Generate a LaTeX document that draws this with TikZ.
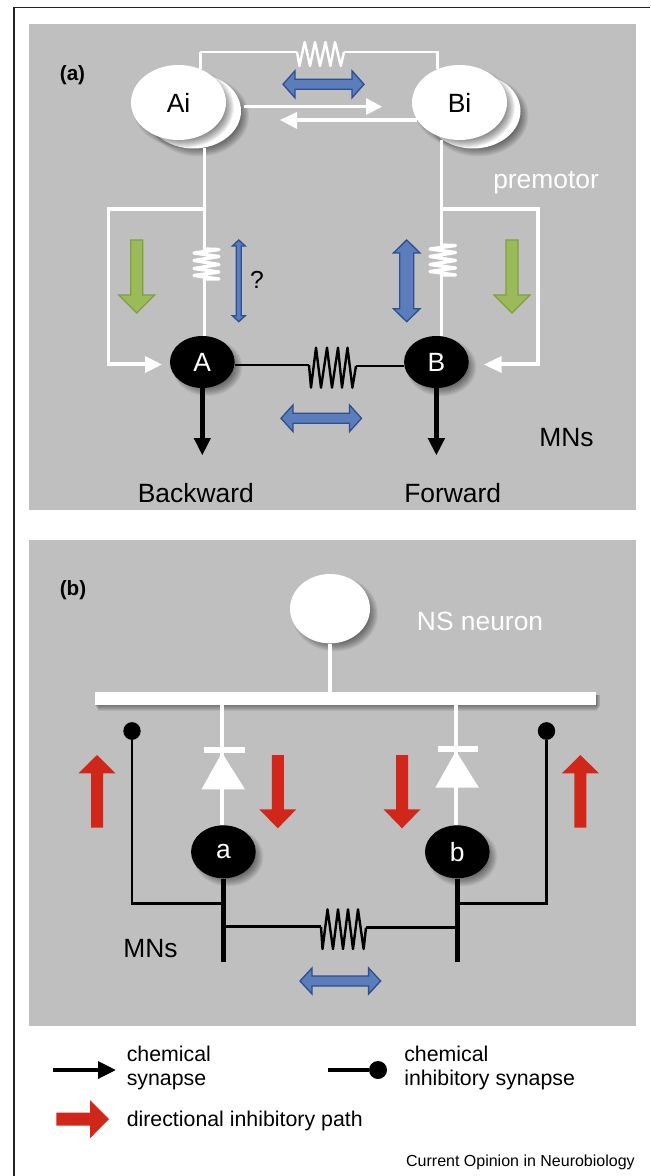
\documentclass[tikz,border=0pt]{standalone}
\usepackage{fontspec}
\setmainfont{Liberation Sans}
\usetikzlibrary{shapes.geometric}
\definecolor{panelgray}{HTML}{BFBFBF}
\definecolor{bluefill}{HTML}{5B7DBB}
\definecolor{blueedge}{HTML}{2F4F8F}
\definecolor{greenfill}{HTML}{9BBB59}
\definecolor{greenedge}{HTML}{7F9F45}
\definecolor{redfill}{HTML}{D0271A}
\definecolor{framecol}{HTML}{222222}
\tikzset{
 panel/.style={fill=panelgray,draw=none},
 wirew/.style={draw=white,line width=2pt,line join=miter},
 wirewth/.style={draw=white,line width=2.7pt,line join=miter},
 wireb/.style={draw=black,line width=2.1pt,line join=miter},
 zigw/.style={draw=white,line width=1.8pt,line join=round},
 zigb/.style={draw=black,line width=1.8pt,line join=round},
 coil/.style={draw=white,line width=2.5pt,line join=round,line cap=round},
 sollw/.style={ellipse,fill=white,draw=none,inner sep=0pt},
 sollb/.style={ellipse,fill=black,draw=none,inner sep=0pt,text=white,font=\fontsize{19.8}{23}\selectfont},
 lab/.style={inner sep=0pt,anchor=base west,font=\fontsize{19.8}{23}\selectfont},
 labw/.style={lab,text=white},
 leg/.style={inner sep=0pt,anchor=base west,font=\fontsize{16}{19}\selectfont},
 panlab/.style={inner sep=0pt,font=\bfseries\fontsize{15.5}{18}\selectfont},
 bluearr/.style={fill=bluefill,draw=blueedge,line width=1pt,line join=miter},
 greenarr/.style={fill=greenfill,draw=greenedge,line width=1pt,line join=miter},
 redarr/.style={fill=redfill,draw=none},
 wtip/.style={fill=white,draw=none},
 btip/.style={fill=black,draw=none},
}
% soft shadow round an ellipse
\newcommand{\softell}[4]{\foreach \k in {0,...,9}{\fill[black,opacity=0.055] ({#1+5},{#2+5}) ellipse [x radius={#3+3-\k}, y radius={#4+3-\k}];}}
% horizontal / vertical double arrows: from,to,centre,half shaft,half head,head length
\newcommand{\dblH}[6]{\path[bluearr] (#1,#3) -- ({#1+#6},{#3-#5}) -- ({#1+#6},{#3-#4}) -- ({#2-#6},{#3-#4}) -- ({#2-#6},{#3-#5}) -- (#2,#3) -- ({#2-#6},{#3+#5}) -- ({#2-#6},{#3+#4}) -- ({#1+#6},{#3+#4}) -- ({#1+#6},{#3+#5}) -- cycle;}
\newcommand{\dblV}[6]{\path[bluearr] (#3,#1) -- ({#3-#5},{#1+#6}) -- ({#3-#4},{#1+#6}) -- ({#3-#4},{#2-#6}) -- ({#3-#5},{#2-#6}) -- (#3,#2) -- ({#3+#5},{#2-#6}) -- ({#3+#4},{#2-#6}) -- ({#3+#4},{#1+#6}) -- ({#3+#5},{#1+#6}) -- cycle;}
% vertical block arrow: style,x,tail y,head base y,tip y,half shaft,half head
\newcommand{\blockV}[7]{\path[#1] ({#2-#6},#3) -- ({#2-#6},#4) -- ({#2-#7},#4) -- (#2,#5) -- ({#2+#7},#4) -- ({#2+#6},#4) -- ({#2+#6},#3) -- cycle;}
\begin{document}
\begin{tikzpicture}[x=0.75pt,y=-0.75pt]
\useasboundingbox (0,0) rectangle (650,1176);
\fill[white] (0,0) rectangle (650,1176);
% frame
\draw[framecol,line width=1.2pt] (650,7.5) -- (13.7,7.5) -- (13.7,1176);
% panels
\path[panel] (29,24) rectangle (636,510);
\path[panel] (29,540) rectangle (636,1026);

\node[panlab] (la) at (72.5,75) {(a)};
\node[panlab] (lb) at (73,590) {(b)};

% ---------- panel a: neurons
\softell{193.5}{111}{47.5}{37.5}
\softell{473}{111}{47.5}{37.5}
\node[sollw,minimum width=71.25pt,minimum height=56.25pt] (AiB) at (193.5,111) {};
\node[sollw,minimum width=71.25pt,minimum height=56.25pt] (BiB) at (473,111) {};
\softell{178.5}{102.5}{47.5}{37.5}
\softell{459.5}{102.5}{47.5}{37.5}
\node[sollw,minimum width=71.25pt,minimum height=56.25pt,font=\fontsize{19.8}{23}\selectfont] (Ai) at (178.5,102.5) {Ai};
\node[sollw,minimum width=71.25pt,minimum height=56.25pt,font=\fontsize{19.8}{23}\selectfont] (Bi) at (459.5,102.5) {Bi};
\softell{202.3}{362}{32}{26}
\softell{436.4}{362}{32}{26}
\node[sollb,minimum width=48.5pt,minimum height=39pt] (A) at (202.3,362) {A};
\node[sollb,minimum width=48.5pt,minimum height=39pt] (B) at (436.4,362) {B};

% coordinates
\coordinate (tl) at (200,52);
\coordinate (tr) at (436.6,52);
\coordinate (zl) at (297,52);
\coordinate (zr) at (344,52);
\coordinate (Ailow) at (204.5,148);
\coordinate (Bilow) at (441.5,146);
\coordinate (ljoin) at (204.5,209.3);
\coordinate (rjoin) at (441.5,209.3);
\coordinate (lout) at (108.6,209.3);
\coordinate (rout) at (537.7,209.3);
\coordinate (lin) at (108.6,364);
\coordinate (rin) at (537.7,364);
\coordinate (cl1) at (204.5,249);
\coordinate (cl2) at (204.5,279);
\coordinate (cr1) at (441.5,245);
\coordinate (cr2) at (441.5,275);

% top white gap junction
\draw[wirew] (Ai.57) |- (tl) -- (zl);
\draw[wirew] (Bi.123) |- (tr) -- (zr);
\draw[zigw] (zl) -- (299.4,66) -- (304.7,42) -- (310,66) -- (315,42) -- (320,66) -- (325.5,42) -- (330.4,66) -- (335,42) -- (340.8,66) -- (zr);
\dblH{283}{364}{84.3}{5}{13.5}{12}

% white chemical arrows between Ai and Bi
\coordinate (AiR) at (244,106.7);
\coordinate (BiL) at (417,120);
\draw[wirewth] (AiR) -- (368,106.7);
\path[wtip] (382,106.7) -- (366,98) -- (366,115) -- cycle;
\draw[wirewth] (BiL) -- (295,120);
\path[wtip] (280,120) -- (297,112) -- (297,129) -- cycle;

% vertical white wires and branches
\draw[wirew] (Ailow) -- (cl1);
\draw[wirew] (Bi.south -| Bilow) -- (cr1);
\draw[wirew] (cl2) -- (A.north -| cl2);
\draw[wirew] (cr2) -- (B.north -| cr2);
\draw[wirewth] (ljoin) -- (lout) -- (lin) -- (147,364);
\path[wtip] (161.7,364.5) -- (145,356) -- (145,373) -- cycle;
\draw[wirewth] (rjoin) -- (rout) -- (rin) -- (500,364);
\path[wtip] (484,364.5) -- (501.6,356) -- (501.6,373) -- cycle;

% coils
\draw[coil] (cl1) -- (219,249.5) -- (194,253) -- (219,256.5) -- (194,260.5) -- (219,264.5) -- (194,268.5) -- (219,272) -- (194,275.5) -- (219,279) -- (cl2);
\draw[coil] (cr1) -- (455.5,245.5) -- (430,249) -- (455.5,252.5) -- (430,256.5) -- (455.5,260.5) -- (430,264.5) -- (455.5,268) -- (430,271.5) -- (455.5,275) -- (cr2);

% green arrows
\blockV{greenarr}{136.8}{240}{295}{313}{6}{18}
\blockV{greenarr}{512}{240}{295}{313}{6}{18}

% blue vertical arrows
\dblV{240}{321.7}{238.8}{2.5}{6.4}{6}
\dblV{240}{321.7}{406.7}{7}{13.3}{13}
\node[inner sep=0pt,font=\fontsize{18.5}{20}\selectfont] (qm) at (257,279.5) {?};

% black gap junction a
\coordinate (zal) at (309,365);
\coordinate (zar) at (356,366);
\draw[wireb] (A.east |- zal) -- (zal);
\draw[wireb] (B.west |- zar) -- (zar);
\draw[zigb] (zal) -- (311,387.7) -- (316,347.7) -- (321,387.7) -- (327,347.7) -- (332,387.7) -- (338,347.7) -- (342,387.7) -- (347.5,347.7) -- (352.4,387.7) -- (zar);
\dblH{281}{361.5}{418.3}{5}{13.3}{12}

% black output arrows
\coordinate (Atip) at (202.3,455);
\coordinate (Btip) at (436.4,455);
\draw[black,line width=3.3pt] (A.south) -- (A.south |- 0,440);
\draw[black,line width=3.3pt] (B.south) -- (B.south |- 0,440);
\path[btip] (Atip) -- (193.6,438) -- (211,438) -- cycle;
\path[btip] (Btip) -- (427.6,438) -- (445.2,438) -- cycle;

\node[lab] (back) at (137.6,502.7) {Backward};
\node[lab] (forw) at (404,502.7) {Forward};
\node[lab] (mnsa) at (539,446.7) {MNs};
\node[labw] (prem) at (493,188.5) {premotor};

% ---------- panel b
\softell{330}{608.7}{40}{34.7}
\node[sollw,minimum width=60pt,minimum height=52pt] (NS) at (330,608.7) {};
\node[labw] (nslab) at (416.7,630.7) {NS neuron};
\foreach \k in {0,...,5}{\fill[black,opacity=0.07] ({98.4-\k*0.7},{695}) rectangle ({596.8+\k*0.7},{711-\k*1.1});}
\node[fill=white,inner sep=0pt,minimum width=375.3pt,minimum height=9.75pt] (bar) at (345.6,698.5) {};
\draw[white,line width=3.6pt] (NS.south) -- (bar.north -| NS.south);

% white diodes
\coordinate (da) at (222,789);
\coordinate (db) at (456,787);
\softell{223.4}{851.8}{32}{26.5}
\softell{457.3}{851.8}{32}{26.5}
\node[sollb,minimum width=48.5pt,minimum height=39.7pt] (a) at (223.4,851.8) {a};
\node[sollb,minimum width=48.5pt,minimum height=39.7pt] (b) at (457.3,851.8) {b};
\draw[white,line width=3.2pt] (bar.south -| da) -- (da);
\draw[white,line width=3.2pt] (da) -- (a.north -| da);
\draw[white,line width=3.2pt] (bar.south -| db) -- (db);
\draw[white,line width=3.2pt] (db) -- (b.north -| db);
\path[wtip] (204,747.3) rectangle (244.6,753);
\path[wtip] (222,752.7) -- (245,789.3) -- (201.5,789.3) -- cycle;
\path[wtip] (438,745.7) rectangle (478,751.7);
\path[wtip] (456,751) -- (478.9,787.7) -- (435.3,787.7) -- cycle;

% black stems
\coordinate (sa) at (223.4,961.7);
\coordinate (sb) at (457.3,961.7);
\draw[black,line width=3.3pt] (a.south) -- (sa);
\draw[black,line width=3.3pt] (b.south) -- (sb);

% inhibitory loops
\node[ellipse,fill=black,inner sep=0pt,minimum width=13pt,minimum height=13.3pt] (dl) at (132,731) {};
\node[ellipse,fill=black,inner sep=0pt,minimum width=13pt,minimum height=13.3pt] (dr) at (546.5,731) {};
\coordinate (jl) at (223.4,903.3);
\coordinate (jr) at (457.3,903.3);
\draw[wireb] (dl.south) |- (jl);
\draw[wireb] (dr.south) |- (jr);

% black gap junction b
\coordinate (zbl) at (321,926.7);
\coordinate (zbr) at (366,927.7);
\draw[wireb] (223.4,926.7) -- (zbl);
\draw[wireb] (457.3,927.7) -- (zbr);
\draw[zigb] (zbl) -- (322.5,949) -- (327.5,909.3) -- (333,949) -- (338,909.3) -- (343,949) -- (348,909.3) -- (353,949) -- (358,909.3) -- (363.6,949) -- (zbr);
\dblH{300}{380.6}{981}{5}{13}{12}

% red arrows
\blockV{redarr}{97}{827.7}{773.3}{755}{6}{18.5}
\blockV{redarr}{277.8}{755}{809.3}{828.3}{6}{18.5}
\blockV{redarr}{402}{755}{809.3}{828.3}{6}{18.5}
\blockV{redarr}{580.4}{827.7}{773.3}{755}{6}{18.5}

\node[lab] (mnsb) at (123,957.3) {MNs};

% ---------- legend
\coordinate (l1a) at (53,1070);
\coordinate (l1b) at (100,1070);
\draw[black,line width=3.4pt] (l1a) -- (l1b);
\path[btip] (115.7,1070) -- (98,1061) -- (98,1079) -- cycle;
\node[leg] (t1) at (126.5,1061.7) {chemical};
\node[leg] (t2) at (126.5,1085) {synapse};

\node[ellipse,fill=black,inner sep=0pt,minimum width=13.5pt,minimum height=13.5pt] (ld) at (378,1070) {};
\coordinate (l2a) at (328,1070);
\draw[black,line width=3.4pt] (l2a) -- (ld);
\node[leg] (t3) at (404,1061.7) {chemical};
\node[leg] (t4) at (404,1085) {inhibitory synapse};

\path[redarr] (56.4,1112.7) -- (90,1112.7) -- (90,1100) -- (109,1119) -- (90,1138.3) -- (90,1125.7) -- (56.4,1125.7) -- cycle;
\node[leg] (t5) at (126.5,1126.7) {directional inhibitory path};
\node[inner sep=0pt,anchor=base east,font=\fontsize{12}{14}\selectfont] (cr) at (635,1166.7) {Current Opinion in Neurobiology};
\end{tikzpicture}
\end{document}
